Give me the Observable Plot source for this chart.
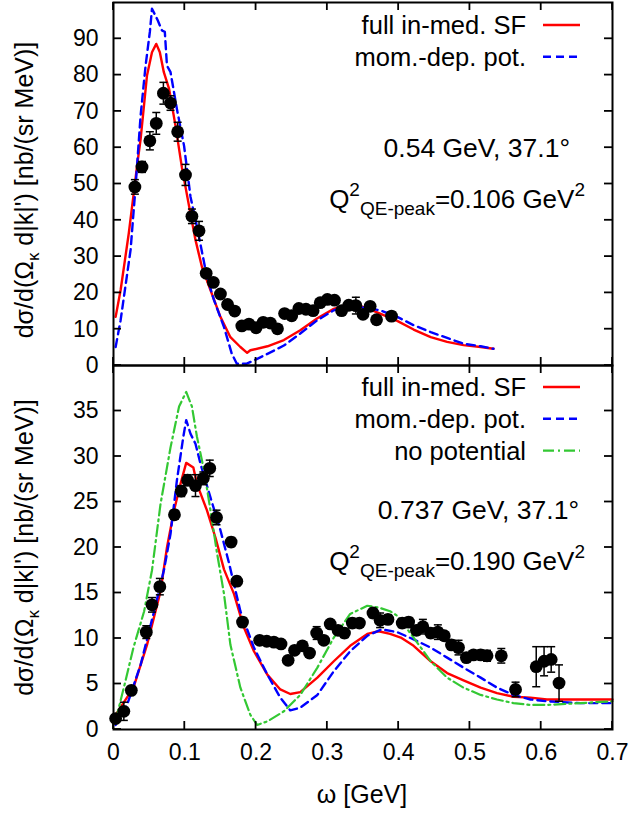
<!DOCTYPE html>
<html><head><meta charset="utf-8">
<script src="https://cdn.jsdelivr.net/npm/d3@7"></script>
<script src="https://cdn.jsdelivr.net/npm/@observablehq/plot@0.6"></script>
<style>
body{margin:0;background:#fff;}
#wrap{position:relative;width:629px;height:813px;font-family:"Liberation Sans",Arial,sans-serif;background:#fff;}
#wrap svg{position:absolute;left:0;}
</style></head><body><div id="wrap"></div>
<script>
// ---------- data ----------
const xTicks = [0, 0.1, 0.2, 0.3, 0.4, 0.5, 0.6, 0.7];
const xTickLabels = ["0", "0.1", "0.2", "0.3", "0.4", "0.5", "0.6", "0.7"];
const topYTicks = [0, 10, 20, 30, 40, 50, 60, 70, 80, 90];
const botYTicks = [0, 5, 10, 15, 20, 25, 30, 35];

const legendTop = ["full in-med. SF", "mom.-dep. pot."];
const legendBot = ["full in-med. SF", "mom.-dep. pot.", "no potential"];
const kinTop = "0.54 GeV, 37.1°";
const kinBot = "0.737 GeV, 37.1°";
const q2Top = "0.106";
const q2Bot = "0.190";

// top panel: data (0.54 GeV)
const topDataOmega = [0.030,0.040,0.051,0.060,0.070,0.080,0.090,0.101,0.110,0.120,0.130,0.140,0.150,0.160,0.170,0.180,0.190,0.200,0.210,0.220,0.230,0.240,0.250,0.260,0.270,0.280,0.290,0.300,0.310,0.320,0.330,0.340,0.350,0.360,0.369,0.390];
const topDataSigma = [49.2,54.7,61.9,66.7,75.0,72.3,64.4,52.5,41.1,37.1,25.4,22.9,19.7,16.8,15.0,10.9,11.4,10.4,11.9,11.7,10.1,14.3,13.7,15.7,15.5,15.1,17.3,18.2,18.0,15.1,16.6,16.5,14.1,16.3,12.6,13.6];
const topDataErr   = [2.0,1.5,2.5,3.0,3.0,2.0,2.6,2.9,2.0,2.6,1.0,1.0,0.8,0.8,0.8,0.6,0.6,0.6,0.6,0.6,0.6,0.8,0.8,0.8,0.8,0.8,0.8,0.8,0.8,0.8,0.8,2.3,1.0,0.8,1.0,1.2];

const topFullOmega = [0.003,0.010,0.0215,0.0285,0.033,0.038,0.047,0.054,0.060,0.065,0.0706,0.078,0.087,0.096,0.106,0.115,0.124,0.136,0.150,0.164,0.178,0.1875,0.192,0.216,0.239,0.262,0.286,0.309,0.325,0.342,0.358,0.374,0.398,0.421,0.445,0.468,0.491,0.515,0.533];
const topFullSigma = [13.4,20.8,36.5,47.6,54.9,62.3,79.9,86.3,88.6,86.3,80.8,76.2,66.0,54.5,43.9,34.6,27.2,20.8,13.4,7.8,5.1,3.5,4.2,5.3,7.0,9.7,13.0,15.6,16.6,16.6,15.6,14.3,12.3,9.9,7.8,6.5,5.6,5.1,4.6];

const topMomOmega = [0.003,0.010,0.024,0.031,0.038,0.045,0.051,0.054,0.062,0.068,0.072,0.075,0.080,0.089,0.099,0.108,0.117,0.131,0.141,0.155,0.166,0.173,0.187,0.197,0.216,0.239,0.262,0.286,0.309,0.325,0.342,0.374,0.398,0.421,0.445,0.468,0.491,0.515,0.533];
const topMomSigma = [5.1,12.5,31.9,49.4,68.8,82.6,91.9,98.3,95.1,92.3,91.9,82.6,80.8,70.6,60.5,46.5,38.3,24.5,18.0,10.6,3.2,0.5,0.5,1.4,3.2,5.5,8.8,12.5,15.2,16.3,16.2,15.2,13.4,11.1,9.2,7.6,6.0,5.3,4.6];

// bottom panel: data (0.737 GeV)
const botDataOmega = [0.003,0.0145,0.025,0.046,0.054,0.065,0.0855,0.095,0.104,0.115,0.126,0.135,0.1445,0.165,0.173,0.181,0.205,0.215,0.225,0.235,0.245,0.254,0.265,0.275,0.285,0.295,0.304,0.315,0.324,0.335,0.345,0.364,0.374,0.385,0.405,0.414,0.425,0.434,0.445,0.455,0.464,0.474,0.484,0.495,0.505,0.515,0.524,0.544,0.564,0.593,0.604,0.614,0.625];
const botDataSigma = [1.2,2.0,4.3,10.7,13.7,15.7,23.6,26.2,27.4,26.8,27.6,28.7,23.3,20.6,16.3,11.8,9.8,9.7,9.6,9.4,7.6,8.7,9.2,8.4,10.6,9.8,11.6,10.9,10.6,11.7,11.7,12.8,12.0,12.1,11.7,11.8,10.9,11.3,10.6,10.7,10.3,9.3,9.0,7.9,8.2,8.2,8.1,8.1,4.4,6.9,7.5,7.7,5.1];
const botDataErr   = [0.4,1.0,0.4,0.7,0.8,0.9,0.5,0.6,0.6,1.2,0.7,0.9,0.8,0.5,0.5,0.5,0.4,0.4,0.4,0.4,0.4,0.4,0.4,0.4,0.7,0.4,0.4,0.4,0.5,0.5,0.4,0.5,0.8,0.5,0.5,0.5,0.5,0.8,0.5,0.8,0.4,0.5,0.8,0.4,0.4,0.5,0.6,0.8,0.8,2.2,1.6,1.4,2.0];

const botFullOmega = [0.003,0.028,0.047,0.066,0.075,0.085,0.094,0.102,0.112,0.117,0.131,0.143,0.155,0.169,0.183,0.197,0.216,0.234,0.248,0.262,0.286,0.309,0.332,0.356,0.372,0.388,0.403,0.421,0.445,0.468,0.491,0.515,0.538,0.561,0.585,0.608,0.655,0.700];
const botFullSigma = [1.6,4.6,9.3,15.2,20.0,24.1,27.0,29.3,28.8,27.0,24.1,21.1,17.6,14.9,11.2,8.6,6.0,4.4,3.9,4.1,5.7,7.5,9.2,10.5,10.8,10.5,10.1,9.2,7.5,6.2,5.4,4.6,4.0,3.6,3.5,3.3,3.3,3.3];

const botMomOmega = [0.003,0.019,0.038,0.057,0.071,0.080,0.089,0.098,0.102,0.108,0.115,0.122,0.136,0.150,0.162,0.178,0.197,0.216,0.234,0.248,0.262,0.286,0.309,0.332,0.356,0.376,0.398,0.421,0.445,0.468,0.491,0.515,0.538,0.561,0.585,0.608,0.655,0.700];
const botMomSigma = [0.5,2.7,7.1,13.0,17.6,21.5,27.4,32.2,34.0,32.5,31.4,29.2,25.5,21.9,18.3,13.0,9.0,6.0,3.5,2.1,2.4,3.8,6.4,8.6,10.3,11.0,10.7,9.9,9.0,7.9,6.8,5.7,4.6,3.8,3.3,3.1,2.9,2.9];

const botNoPotOmega = [0.003,0.0145,0.028,0.043,0.054,0.066,0.080,0.092,0.102,0.110,0.117,0.127,0.136,0.145,0.155,0.164,0.178,0.192,0.2015,0.216,0.239,0.262,0.286,0.309,0.332,0.356,0.372,0.388,0.398,0.421,0.445,0.468,0.491,0.515,0.538,0.561,0.585,0.608,0.655,0.700];
const botNoPotSigma = [1.0,4.6,9.0,13.0,17.5,24.8,31.0,35.5,37.1,35.5,32.2,28.5,24.1,19.5,14.9,9.3,4.6,1.6,0.5,0.9,2.0,3.8,6.8,10.1,12.7,13.6,13.4,13.0,12.5,10.1,7.5,5.7,4.6,3.8,3.3,2.9,2.7,2.7,2.9,3.1];

// ---------- helpers ----------
const pts = (w, v, e) => w.map((x, i) => ({w: x, v: v[i], e: e[i]}));
const crv = (w, v) => w.map((x, i) => ({w: x, v: v[i]}));
const FONT = '"Liberation Sans", Arial, sans-serif';
const RED = "#ff0000", BLUE = "#0000ff", GREEN = "#33c833";
const styles = [
  {stroke: RED, strokeWidth: 2.4},
  {stroke: BLUE, strokeWidth: 2.4, strokeDasharray: "8,5"},
  {stroke: GREEN, strokeWidth: 2.2, strokeDasharray: "11,4,2,4"}
];
const capSymbol = {draw(ctx, size) { const r = Math.sqrt(size / Math.PI); ctx.moveTo(-r, 0); ctx.lineTo(r, 0); }};
const W = 629, ML = 113, MR = 17, TICK = 8;
const X_DOMAIN = [0, 0.7];

function panel({height, marginTop, marginBottom, yDomain, yTicks, curves, data, showXLabels}) {
  const D = pts(data.w, data.v, data.e);
  const marks = [];
  curves.forEach((c) => marks.push(Plot.line(crv(c.w, c.v), {x: "w", y: "v", ...styles[c.style], strokeLinejoin: "round"})));
  marks.push(Plot.ruleX(D, {x: "w", y1: d => d.v - d.e, y2: d => d.v + d.e, stroke: "black", strokeWidth: 1.5}));
  marks.push(Plot.dot(D, {x: "w", y: d => d.v + d.e, symbol: capSymbol, r: 4, stroke: "black", strokeWidth: 1.5}));
  marks.push(Plot.dot(D, {x: "w", y: d => d.v - d.e, symbol: capSymbol, r: 4, stroke: "black", strokeWidth: 1.5}));
  marks.push(Plot.dot(D, {x: "w", y: "v", r: 6.4, fill: "black"}));
  marks.push(Plot.axisY(yTicks, {anchor: "left", tickSize: 0, tickPadding: 15, label: null, fontSize: 23, fill: "black"}));
  if (showXLabels) marks.push(Plot.axisX(xTicks, {anchor: "bottom", tickSize: 0, tickPadding: 14, label: null, fontSize: 23, fill: "black", tickFormat: (d, i) => xTickLabels[i]}));
  marks.push(Plot.frame({stroke: "black", strokeWidth: 2}));
  const svg = Plot.plot({
    width: W, height, marginLeft: ML, marginRight: MR, marginTop, marginBottom,
    x: {domain: X_DOMAIN, axis: null},
    y: {domain: yDomain, axis: null},
    style: {fontFamily: FONT, background: "none", overflow: "visible", color: "black"},
    marks
  });
  // inward tick marks on all four sides, positioned through Plot's own scales
  const sx = svg.scale("x"), sy = svg.scale("y");
  const x0 = sx.apply(X_DOMAIN[0]), x1 = sx.apply(X_DOMAIN[1]);
  const y0 = sy.apply(yDomain[0]), y1 = sy.apply(yDomain[1]);
  const g = d3.select(svg).append("g").attr("stroke", "black").attr("stroke-width", 1.8);
  xTicks.forEach(t => {
    const px = sx.apply(t);
    g.append("line").attr("x1", px).attr("x2", px).attr("y1", y0).attr("y2", y0 - TICK);
    g.append("line").attr("x1", px).attr("x2", px).attr("y1", y1).attr("y2", y1 + TICK);
  });
  yTicks.forEach(t => {
    const py = sy.apply(t);
    g.append("line").attr("y1", py).attr("y2", py).attr("x1", x0).attr("x2", x0 + TICK);
    g.append("line").attr("y1", py).attr("y2", py).attr("x1", x1).attr("x2", x1 - TICK);
  });
  return svg;
}

function annotate(svg, items, kin, q2, kinRight) {
  const g = d3.select(svg).append("g").attr("font-family", FONT).attr("fill", "black");
  items.forEach((name, i) => {
    const y = 25 + i * 31.8;
    g.append("text").attr("x", 526).attr("y", y).attr("dy", "0.35em").attr("text-anchor", "end").attr("font-size", 25.5).text(name);
    g.append("line").attr("x1", 543).attr("x2", 580).attr("y1", y).attr("y2", y)
      .attr("stroke", styles[i].stroke).attr("stroke-width", styles[i].strokeWidth)
      .attr("stroke-dasharray", styles[i].strokeDasharray || null);
  });
  g.append("text").attr("x", kinRight).attr("y", 157).attr("text-anchor", "end").attr("font-size", 26.5).text(kin);
  const t = g.append("text").attr("x", 585).attr("y", 208).attr("text-anchor", "end").attr("font-size", 26);
  t.append("tspan").text("Q");
  t.append("tspan").attr("font-size", 19).attr("dy", -12).text("2");
  t.append("tspan").attr("font-size", 19).attr("dy", 19).text("QE-peak");
  t.append("tspan").attr("dy", -7).text("=" + q2 + " GeV");
  t.append("tspan").attr("font-size", 19).attr("dy", -12).text("2");
}

function yLabel(svg, cy) {
  const t = d3.select(svg).append("text").attr("font-family", FONT).attr("font-size", 25)
    .attr("text-anchor", "middle").attr("transform", `translate(33,${cy}) rotate(-90)`).attr("fill", "black");
  t.append("tspan").text("dσ/d(Ω");
  t.append("tspan").attr("font-size", 17).attr("dy", 6).text("κ");
  t.append("tspan").attr("dy", -6).text(" d|k|') [nb/(sr MeV)]");
}

const wrap = document.getElementById("wrap");

const topSvg = panel({
  height: 368, marginTop: 2, marginBottom: 3, yDomain: [0, 100], yTicks: topYTicks,
  curves: [{w: topFullOmega, v: topFullSigma, style: 0}, {w: topMomOmega, v: topMomSigma, style: 1}],
  data: {w: topDataOmega, v: topDataSigma, e: topDataErr}, showXLabels: false
});
topSvg.style.top = "0px";
annotate(topSvg, legendTop, kinTop, q2Top, 570);
yLabel(topSvg, 190);
wrap.appendChild(topSvg);

const botSvg = panel({
  height: 451, marginTop: 3, marginBottom: 84, yDomain: [0, 40], yTicks: botYTicks,
  curves: [{w: botFullOmega, v: botFullSigma, style: 0}, {w: botMomOmega, v: botMomSigma, style: 1}, {w: botNoPotOmega, v: botNoPotSigma, style: 2}],
  data: {w: botDataOmega, v: botDataSigma, e: botDataErr}, showXLabels: true
});
botSvg.style.top = "362px";
annotate(botSvg, legendBot, kinBot, q2Bot, 579);
yLabel(botSvg, 185.5);
d3.select(botSvg).append("text").attr("font-family", FONT).attr("font-size", 25).attr("text-anchor", "middle")
  .attr("x", 362).attr("y", 441).attr("fill", "black").text("ω [GeV]");
wrap.appendChild(botSvg);
</script>
</body></html>
